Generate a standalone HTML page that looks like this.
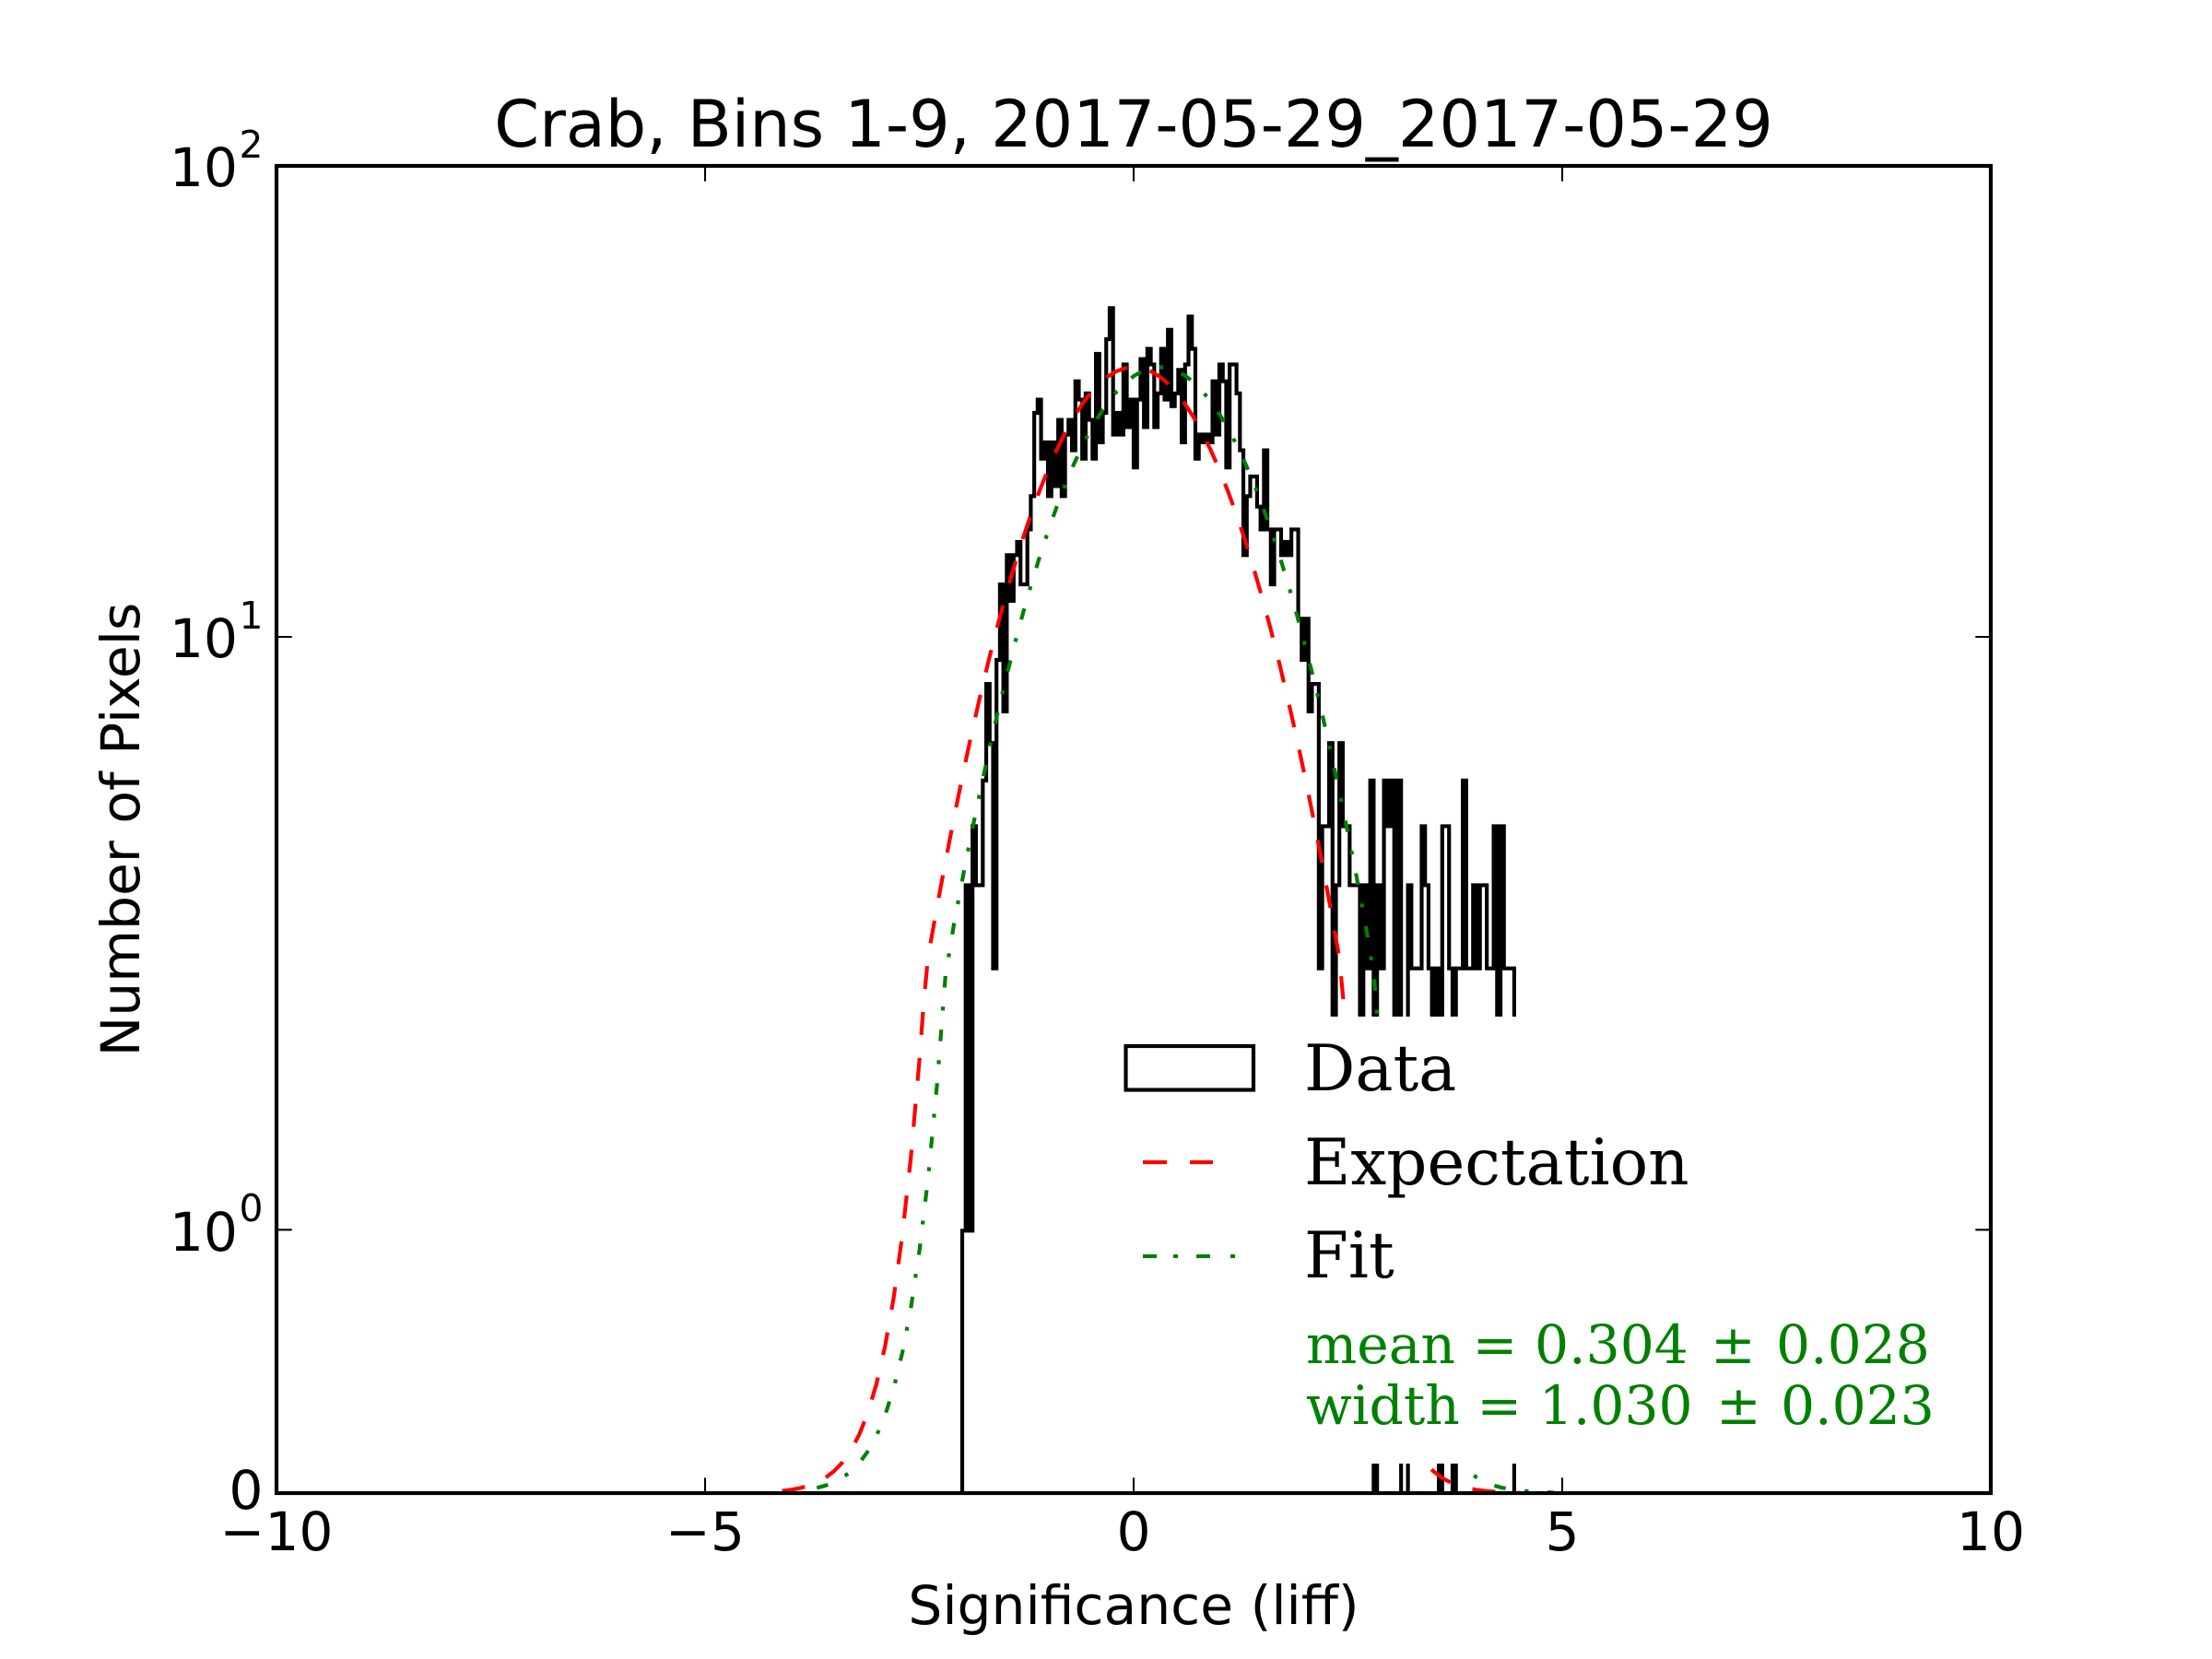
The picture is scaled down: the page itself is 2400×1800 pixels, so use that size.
<!DOCTYPE html>
<html>
<head>
<meta charset="utf-8">
<style>
  html, body { margin: 0; padding: 0; background: #ffffff; }
  svg { display: block; }
</style>
</head>
<body>
<svg xmlns="http://www.w3.org/2000/svg" width="2400" height="1800" viewBox="0 0 2400 1800">
  <rect x="0" y="0" width="2400" height="1800" fill="#ffffff"/>
  <defs>
    <clipPath id="ax">
      <rect x="300" y="180" width="1860" height="1440"/>
    </clipPath>
  </defs>

  <!-- Title -->
  <text x="1230" y="159" text-anchor="middle" font-family="'DejaVu Sans', 'Liberation Sans', sans-serif" font-size="70" fill="#000">Crab, Bins 1-9, 2017-05-29_2017-05-29</text>

  <g clip-path="url(#ax)">
    <!-- Histogram (step) -->
    <path transform="translate(1044,0) scale(3.72,1)" vector-effect="non-scaling-stroke" fill="none" stroke="#000" stroke-width="4.17" stroke-linejoin="miter"
      d="M0 1620 V1335.3 H1 V960.4 H2 V1335.3 H3 V896.4 H4 V960.4 H6 V846.8 H7 V742.1 H8 V806.2 H9 V1050.7 H10 V716.0 H11 V634.1 H12 V771.9 H13 V602.3 H14 V651.9 H15 V602.3 H16 V587.9 H17 V634.1 H19 V574.4 H20 V538.3 H21 V448.0 H22 V433.6 H23 V497.7 H24 V479.9 H25 V538.3 H26 V479.9 H27 V527.4 H28 V455.6 H29 V538.3 H30 V471.5 H31 V455.6 H32 V488.6 H33 V413.7 H34 V433.6 H35 V497.7 H36 V426.8 H37 V455.6 H38 V497.7 H39 V384.0 H40 V479.9 H41 V448.0 H42 V367.9 H43 V334.3 H44 V471.5 H45 V448.0 H46 V471.5 H47 V395.4 H48 V463.4 H49 V433.6 H50 V507.2 H51 V433.6 H52 V389.6 H53 V463.4 H54 V378.5 H55 V395.4 H56 V463.4 H57 V426.8 H58 V378.5 H59 V433.6 H60 V357.8 H61 V440.7 H62 V426.8 H63 V401.3 H64 V479.9 H65 V395.4 H66 V343.4 H67 V378.5 H68 V497.7 H69 V471.5 H70 V479.9 H71 V471.5 H72 V479.9 H73 V413.7 H74 V471.5 H75 V395.4 H76 V413.7 H77 V507.2 H78 V395.4 H80 V426.8 H81 V488.6 H82 V602.3 H83 V538.3 H84 V517.0 H86 V549.7 H87 V574.4 H88 V488.6 H89 V574.4 H90 V634.1 H91 V574.4 H93 V602.3 H94 V587.9 H95 V602.3 H96 V574.4 H98 V671.3 H99 V716.0 H100 V671.3 H101 V771.9 H102 V742.1 H104 V1050.7 H105 V896.4 H107 V806.2 H108 V1335.3 H109 V960.4 H110 V806.2 H111 V896.4 H113 V960.4 H116 V1335.3 H117 V960.4 H118 V1050.7 H119 V846.8 H120 V1620 H121 V960.4 H122 V1050.7 H123 V846.8 H124 V896.4 H125 V846.8 H126 V1335.3 H127 V846.8 H128 V1620 H130 V960.4 H131 V1050.7 H134 V896.4 H135 V960.4 H136 V1050.7 H137 V1335.3 H138 V1050.7 H139 V1620 H140 V896.4 H142 V1050.7 H143 V1620 H144 V1050.7 H146 V846.8 H147 V1050.7 H149 V960.4 H150 V1050.7 H151 V960.4 H153 V1050.7 H155 V896.4 H156 V1335.3 H157 V896.4 H158 V1050.7 H161 V1620"/>

    <!-- Expectation (red dashed) -->
    <polyline fill="none" stroke="#ff0000" stroke-width="4.17" stroke-dasharray="25 25" stroke-linejoin="round"
      points="848.7,1617.6 858.0,1616.4 867.3,1614.7 876.6,1612.2 885.9,1608.6 895.2,1603.6 904.5,1596.6 913.8,1587.0 923.1,1573.9 932.4,1556.2 941.7,1532.6 951.0,1501.4 960.3,1460.6 969.6,1408.2 978.9,1341.0 988.2,1256.4 997.5,1150.8 1002.15,1089.0 1006.8,1039.2 1016.1,986.9 1025.4,937.0 1034.7,889.1 1044.0,843.4 1053.3,800.0 1062.6,758.9 1071.9,719.9 1081.2,683.1 1090.5,648.8 1099.8,616.5 1109.1,586.4 1118.4,558.6 1127.7,533.0 1137.0,509.7 1146.3,488.5 1155.6,469.6 1164.9,452.9 1174.2,438.4 1183.5,426.2 1192.8,416.2 1202.1,408.4 1211.4,402.8 1220.7,399.5 1230.0,398.4 1239.3,399.5 1248.6,402.8 1257.9,408.4 1267.2,416.2 1276.5,426.2 1285.8,438.4 1295.1,452.9 1304.4,469.6 1313.7,488.5 1323.0,509.7 1332.3,533.0 1341.6,558.6 1350.9,586.4 1360.2,616.5 1369.5,648.8 1378.8,683.1 1388.1,719.9 1397.4,758.9 1406.7,800.0 1416.0,843.4 1425.3,889.1 1434.6,937.0 1443.9,986.9 1453.2,1039.2 1457.85,1089.0 1462.5,1150.8 1471.8,1256.4 1481.1,1341.0 1490.4,1408.2 1499.7,1460.6 1509.0,1501.4 1518.3,1532.6 1527.6,1556.2 1536.9,1573.9 1546.2,1587.0 1555.5,1596.6 1564.8,1603.6 1574.1,1608.6 1583.4,1612.2 1592.7,1614.7 1602.0,1616.4 1611.3,1617.6 1620.6,1618.4 1629.9,1619.0 1639.2,1619.3 1648.5,1619.6"/>

    <!-- Fit (green dash-dot) -->
    <polyline fill="none" stroke="#008000" stroke-width="4.17" stroke-dasharray="12.5 20.8 4.2 20.8" stroke-linejoin="round"
      points="886.3,1614.3 895.6,1611.8 904.9,1608.2 914.2,1603.2 923.5,1596.3 932.8,1586.8 942.1,1574.0 951.4,1557.0 960.7,1534.4 970.0,1504.8 979.3,1466.5 988.6,1417.2 997.9,1354.7 1007.2,1276.2 1016.5,1178.7 1025.8,1058.9 1035.1,1002.4 1044.4,953.1 1053.7,906.0 1063.0,860.9 1072.3,817.9 1081.6,776.9 1090.9,738.2 1100.2,701.5 1109.5,666.9 1118.8,634.3 1128.1,603.9 1137.4,575.6 1146.7,549.4 1156.0,525.3 1165.3,503.2 1174.6,483.3 1183.9,465.5 1193.2,449.7 1202.5,436.1 1211.8,424.6 1221.1,415.1 1230.4,407.8 1239.7,402.6 1249.0,399.5 1258.3,398.4 1267.6,399.5 1276.9,402.6 1286.2,407.8 1295.5,415.1 1304.8,424.6 1314.1,436.1 1323.4,449.7 1332.7,465.5 1342.0,483.3 1351.3,503.2 1360.6,525.3 1369.9,549.4 1379.2,575.6 1388.5,603.9 1397.8,634.3 1407.1,666.9 1416.4,701.5 1425.7,738.2 1435.0,776.9 1444.3,817.9 1453.6,860.9 1462.9,906.0 1472.2,953.1 1481.5,1002.4 1490.8,1058.9 1500.1,1178.7 1509.4,1276.2 1518.7,1354.7 1528.0,1417.2 1537.3,1466.5 1546.6,1504.8 1555.9,1534.4 1565.2,1557.0 1574.5,1574.0 1583.8,1586.8 1593.1,1596.3 1602.4,1603.2 1611.7,1608.2 1621.0,1611.8 1630.3,1614.3 1648.9,1617.4 1667.5,1618.8 1686.1,1619.5"/>
  </g>

  <!-- Legend (white background, no border) -->
  <rect x="1195" y="1103" width="950" height="485" fill="#ffffff"/>
  <rect x="1221.5" y="1135" width="138.5" height="47.5" fill="none" stroke="#000" stroke-width="4.17"/>
  <text x="1415" y="1183" font-family="'DejaVu Serif', 'Liberation Serif', serif" font-size="69" fill="#000">Data</text>
  <line x1="1240" y1="1261" x2="1266" y2="1261" stroke="#ff0000" stroke-width="4.17"/>
  <line x1="1291" y1="1261" x2="1316" y2="1261" stroke="#ff0000" stroke-width="4.17"/>
  <text x="1415" y="1285" font-family="'DejaVu Serif', 'Liberation Serif', serif" font-size="69" fill="#000">Expectation</text>
  <line x1="1240" y1="1363" x2="1255" y2="1363" stroke="#008000" stroke-width="4.17"/>
  <line x1="1273" y1="1363" x2="1278" y2="1363" stroke="#008000" stroke-width="4.17"/>
  <line x1="1298" y1="1363" x2="1313" y2="1363" stroke="#008000" stroke-width="4.17"/>
  <line x1="1335" y1="1363" x2="1340" y2="1363" stroke="#008000" stroke-width="4.17"/>
  <text x="1415" y="1386" font-family="'DejaVu Serif', 'Liberation Serif', serif" font-size="69" fill="#000">Fit</text>
  <text x="1417" y="1479" font-family="'DejaVu Serif', 'Liberation Serif', serif" font-size="58.3" fill="#008000">mean = 0.304<tspan x="1856">±</tspan><tspan x="1927">0.028</tspan></text>
  <text x="1417" y="1545" font-family="'DejaVu Serif', 'Liberation Serif', serif" font-size="58.3" fill="#008000">width = 1.030<tspan x="1862">±</tspan><tspan x="1932">0.023</tspan></text>

  <!-- Ticks -->
  <g stroke="#000" stroke-width="2.08">
    <line x1="300" y1="1620" x2="300" y2="1603.3"/>
    <line x1="765" y1="1620" x2="765" y2="1603.3"/>
    <line x1="1230" y1="1620" x2="1230" y2="1603.3"/>
    <line x1="1695" y1="1620" x2="1695" y2="1603.3"/>
    <line x1="2160" y1="1620" x2="2160" y2="1603.3"/>
    <line x1="300" y1="180" x2="300" y2="196.7"/>
    <line x1="765" y1="180" x2="765" y2="196.7"/>
    <line x1="1230" y1="180" x2="1230" y2="196.7"/>
    <line x1="1695" y1="180" x2="1695" y2="196.7"/>
    <line x1="2160" y1="180" x2="2160" y2="196.7"/>
    <line x1="300" y1="1620" x2="316.7" y2="1620"/>
    <line x1="300" y1="1334.3" x2="316.7" y2="1334.3"/>
    <line x1="300" y1="691" x2="316.7" y2="691"/>
    <line x1="300" y1="180" x2="316.7" y2="180"/>
    <line x1="2160" y1="1620" x2="2143.3" y2="1620"/>
    <line x1="2160" y1="1334.3" x2="2143.3" y2="1334.3"/>
    <line x1="2160" y1="691" x2="2143.3" y2="691"/>
    <line x1="2160" y1="180" x2="2143.3" y2="180"/>
  </g>

  <!-- Axes frame -->
  <rect x="300" y="180" width="1860" height="1440" fill="none" stroke="#000" stroke-width="4.17"/>

  <!-- X tick labels -->
  <g font-family="'DejaVu Sans', 'Liberation Sans', sans-serif" font-size="58.3" fill="#000" text-anchor="middle">
    <text x="300" y="1682">−10</text>
    <text x="765" y="1682">−5</text>
    <text x="1230" y="1682">0</text>
    <text x="1695" y="1682">5</text>
    <text x="2160" y="1682">10</text>
  </g>

  <!-- Y tick labels -->
  <g font-family="'DejaVu Sans', 'Liberation Sans', sans-serif" fill="#000" text-anchor="end">
    <text x="258" y="202" font-size="58.3">10</text>
    <text x="285.5" y="171" font-size="40.8">2</text>
    <text x="258" y="713" font-size="58.3">10</text>
    <text x="285.5" y="682" font-size="40.8">1</text>
    <text x="258" y="1357" font-size="58.3">10</text>
    <text x="285.5" y="1325" font-size="40.8">0</text>
    <text x="285.5" y="1637" font-size="58.3">0</text>
  </g>

  <!-- Axis labels -->
  <text x="1230" y="1762" text-anchor="middle" font-family="'DejaVu Sans', 'Liberation Sans', sans-serif" font-size="58.3" fill="#000">Significance (liff)</text>
  <text transform="translate(151,900) rotate(-90)" text-anchor="middle" font-family="'DejaVu Sans', 'Liberation Sans', sans-serif" font-size="58.3" fill="#000">Number of Pixels</text>
</svg>
</body>
</html>
